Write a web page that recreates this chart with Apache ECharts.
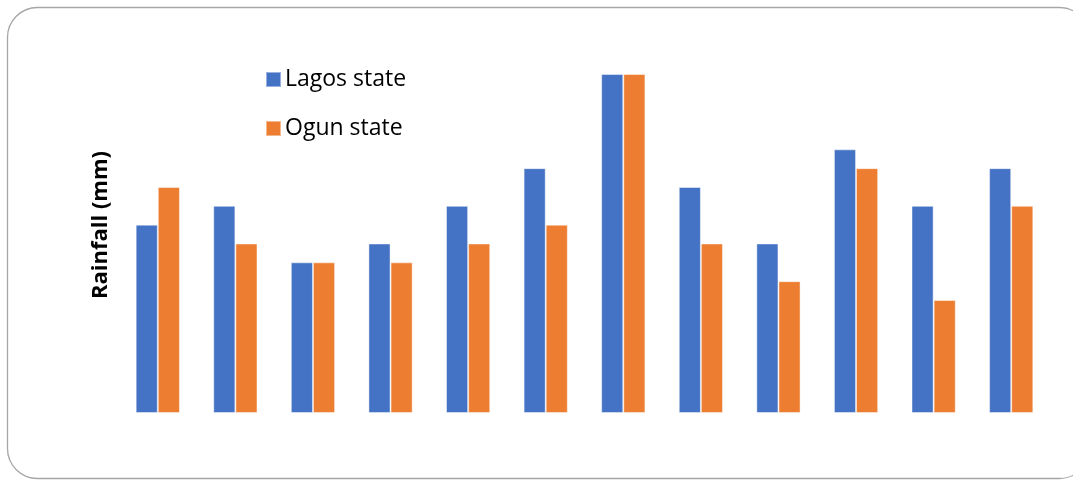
<!DOCTYPE html>
<html>
<head>
<meta charset="utf-8">
<script src="https://cdn.jsdelivr.net/npm/echarts@6/dist/echarts.min.js"></script>
<style>
  html, body { margin: 0; padding: 0; background: #ffffff; }
  #chart { width: 1073px; height: 480px; }
</style>
</head>
<body>
<div id="chart"></div>
<script>
// Monthly rainfall, twelve periods, two states
const categories = ['1', '2', '3', '4', '5', '6', '7', '8', '9', '10', '11', '12'];
const lagosRainfall = [10, 11, 8, 9, 11, 13, 18, 12, 9, 14, 11, 13];
const ogunRainfall = [12, 9, 8, 8, 9, 10, 18, 9, 7, 13, 6, 11];
const seriesNames = ['Lagos state', 'Ogun state'];
const yTitle = 'Rainfall (mm)';

const chart = echarts.init(document.getElementById('chart'), null, { renderer: 'canvas' });

const barEdge = { borderColor: 'rgba(255,255,255,0.45)', borderWidth: 1 };

chart.setOption({
  animation: false,
  backgroundColor: '#ffffff',
  graphic: [
    {
      type: 'rect',
      shape: { x: 7.5, y: 7.5, width: 1082, height: 471, r: 30 },
      style: { fill: 'none', stroke: '#a6a6a6', lineWidth: 1.3 },
      z: -1
    },
    {
      // vertical axis title
      type: 'text',
      x: 101,
      y: 225,
      rotation: Math.PI / 2,
      style: {
        text: yTitle,
        fontFamily: 'Open Sans',
        fontWeight: 'bold',
        fontSize: 22,
        fill: '#000000',
        textAlign: 'center',
        textVerticalAlign: 'middle'
      }
    }
  ],
  legend: {
    orient: 'vertical',
    left: 265,
    top: 68,
    padding: 0,
    itemWidth: 15,
    itemHeight: 15,
    itemGap: 26,
    icon: 'rect',
    textStyle: { fontFamily: 'Open Sans', fontSize: 23, lineHeight: 23, color: '#000000', padding: [0, 0, 0, -1] },
    data: seriesNames
  },
  grid: { left: 119, right: 23, top: 74, bottom: 67 },
  xAxis: {
    type: 'category',
    data: categories,
    axisLine: { show: false },
    axisTick: { show: false },
    axisLabel: { show: false },
    splitLine: { show: false }
  },
  yAxis: {
    type: 'value',
    min: 0,
    max: 18,
    axisLine: { show: false },
    axisTick: { show: false },
    axisLabel: { show: false },
    splitLine: { show: false }
  },
  series: [
    {
      name: seriesNames[0],
      type: 'bar',
      data: lagosRainfall,
      barGap: '0%',
      barCategoryGap: '43%',
      itemStyle: Object.assign({ color: '#4472c4' }, barEdge)
    },
    {
      name: seriesNames[1],
      type: 'bar',
      data: ogunRainfall,
      itemStyle: Object.assign({ color: '#ed7d31' }, barEdge)
    }
  ]
});
</script>
</body>
</html>
